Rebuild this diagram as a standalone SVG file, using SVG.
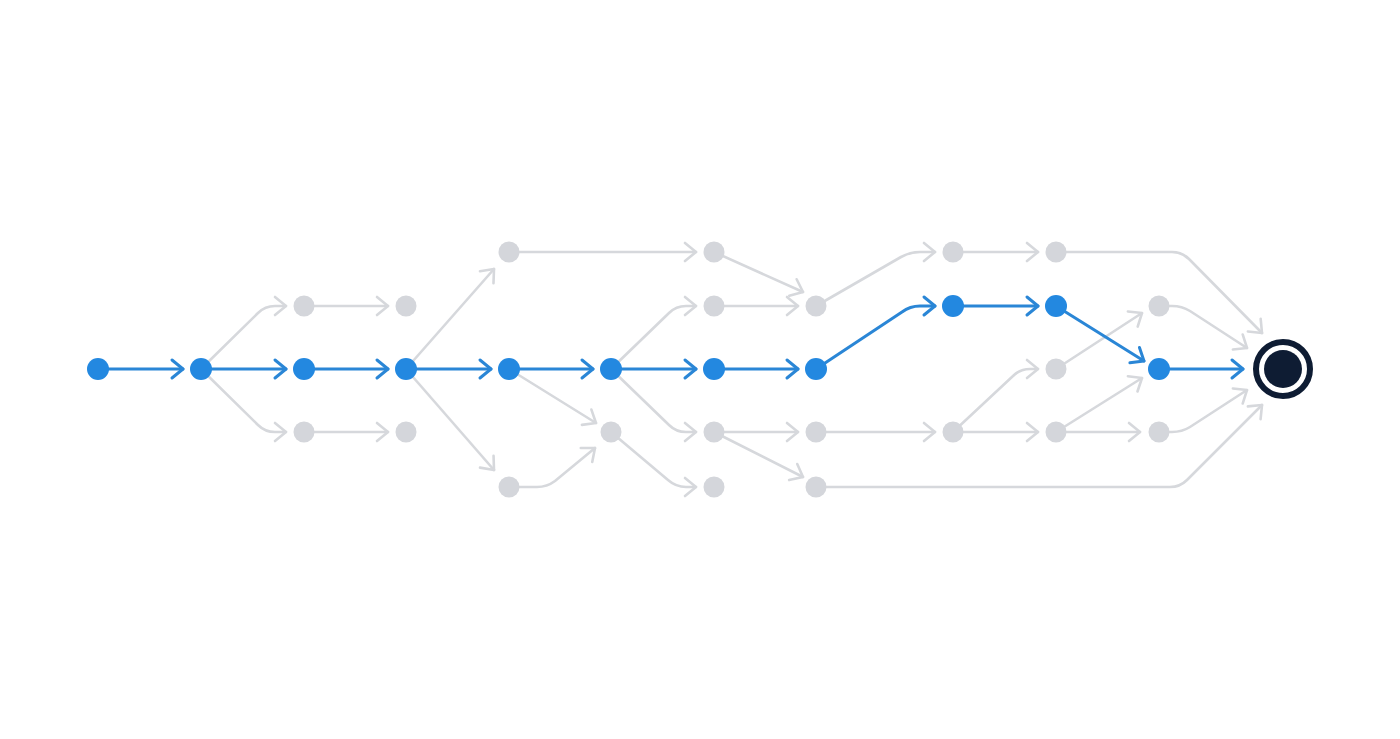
<svg xmlns="http://www.w3.org/2000/svg" width="1400" height="739" viewBox="0 0 1400 739">
<style>
.b{fill:none;stroke:#2a86d6;stroke-width:3;stroke-linecap:round;stroke-linejoin:round}
.g{fill:none;stroke:#d6d8dc;stroke-width:2.6;stroke-linecap:round;stroke-linejoin:round}
.nb{fill:#2388e0}
.ng{fill:#d4d6db}
</style>
<defs>
<marker id="ab" markerUnits="userSpaceOnUse" viewBox="-14 -12 16 24" markerWidth="16" markerHeight="24" refX="0" refY="0" orient="auto" overflow="visible">
<path d="M-11,-9 L0,0 L-11,9" fill="none" stroke="#2a86d6" stroke-width="3" stroke-linecap="round" stroke-linejoin="round"/>
</marker>
<marker id="ag" markerUnits="userSpaceOnUse" viewBox="-14 -12 16 24" markerWidth="16" markerHeight="24" refX="0" refY="0" orient="auto" overflow="visible">
<path d="M-11,-9 L0,0 L-11,9" fill="none" stroke="#d6d8dc" stroke-width="2.6" stroke-linecap="round" stroke-linejoin="round"/>
</marker>
</defs>
<rect width="1400" height="739" fill="#ffffff"/>
<g id="connectors">
<g marker-end="url(#ag)">
<path class="g" d="M201,369 L258,313 Q265,306 275,306 H286"/>
<path class="g" d="M201,369 L258,425 Q265,432 275,432 H286"/>
<path class="g" d="M304,306 H388"/>
<path class="g" d="M304,432 H388"/>
<path class="g" d="M406,369 L494,269"/>
<path class="g" d="M406,369 L494,470"/>
<path class="g" d="M509,252 H696"/>
<path class="g" d="M509,369 L596,423"/>
<path class="g" d="M509,487 H537 Q547,487 555,481 L595,448"/>
<path class="g" d="M611,369 L669,313 Q676,306 686,306 H696"/>
<path class="g" d="M611,369 L669,425 Q676,432 686,432 H696"/>
<path class="g" d="M611,432 L668,480 Q676,487 686,487 H696"/>
<path class="g" d="M714,252 L803,292"/>
<path class="g" d="M714,306 H798"/>
<path class="g" d="M714,432 H798"/>
<path class="g" d="M714,432 L803,477"/>
<path class="g" d="M816,306 L901,257 Q910,252 920,252 H935"/>
<path class="g" d="M816,432 H935"/>
<path class="g" d="M816,487 H1170 Q1180,487 1187,480 L1262,405"/>
<path class="g" d="M953,252 H1038"/>
<path class="g" d="M953,432 L1013,376 Q1020,369 1030,369 H1038"/>
<path class="g" d="M953,432 H1038"/>
<path class="g" d="M1056,252 H1172 Q1182,252 1189,259 L1262,333"/>
<path class="g" d="M1056,369 L1142,313"/>
<path class="g" d="M1056,432 L1142,378"/>
<path class="g" d="M1056,432 H1140"/>
<path class="g" d="M1159,306 H1172 Q1182,306 1190,311 L1247,348"/>
<path class="g" d="M1159,432 H1172 Q1182,432 1190,427 L1247,390"/>
</g>
<g marker-end="url(#ab)">
<path class="b" d="M98,369 H183"/>
<path class="b" d="M201,369 H286"/>
<path class="b" d="M304,369 H388"/>
<path class="b" d="M406,369 H491"/>
<path class="b" d="M509,369 H593"/>
<path class="b" d="M611,369 H696"/>
<path class="b" d="M714,369 H798"/>
<path class="b" d="M816,369 L902,312 Q910,306 920,306 H935"/>
<path class="b" d="M953,306 H1038"/>
<path class="b" d="M1056,306 L1144,361"/>
<path class="b" d="M1159,369 H1243"/>
</g>
</g>
<g id="n-b1"><circle class="nb" cx="98" cy="369" r="11"/></g>
<g id="n-b2"><circle class="nb" cx="201" cy="369" r="11"/></g>
<g id="n-b3"><circle class="nb" cx="304" cy="369" r="11"/></g>
<g id="n-b4"><circle class="nb" cx="406" cy="369" r="11"/></g>
<g id="n-b5"><circle class="nb" cx="509" cy="369" r="11"/></g>
<g id="n-b6"><circle class="nb" cx="611" cy="369" r="11"/></g>
<g id="n-b7"><circle class="nb" cx="714" cy="369" r="11"/></g>
<g id="n-b8"><circle class="nb" cx="816" cy="369" r="11"/></g>
<g id="n-b9"><circle class="nb" cx="953" cy="306" r="11"/></g>
<g id="n-b10"><circle class="nb" cx="1056" cy="306" r="11"/></g>
<g id="n-b11"><circle class="nb" cx="1159" cy="369" r="11"/></g>
<g id="n-g1"><circle class="ng" cx="304" cy="306" r="10.5"/></g>
<g id="n-g2"><circle class="ng" cx="406" cy="306" r="10.5"/></g>
<g id="n-g3"><circle class="ng" cx="304" cy="432" r="10.5"/></g>
<g id="n-g4"><circle class="ng" cx="406" cy="432" r="10.5"/></g>
<g id="n-g5"><circle class="ng" cx="509" cy="252" r="10.5"/></g>
<g id="n-g6"><circle class="ng" cx="509" cy="487" r="10.5"/></g>
<g id="n-g7"><circle class="ng" cx="611" cy="432" r="10.5"/></g>
<g id="n-g8"><circle class="ng" cx="714" cy="252" r="10.5"/></g>
<g id="n-g9"><circle class="ng" cx="714" cy="306" r="10.5"/></g>
<g id="n-g10"><circle class="ng" cx="714" cy="432" r="10.5"/></g>
<g id="n-g11"><circle class="ng" cx="714" cy="487" r="10.5"/></g>
<g id="n-g12"><circle class="ng" cx="816" cy="306" r="10.5"/></g>
<g id="n-g13"><circle class="ng" cx="816" cy="432" r="10.5"/></g>
<g id="n-g14"><circle class="ng" cx="816" cy="487" r="10.5"/></g>
<g id="n-g15"><circle class="ng" cx="953" cy="252" r="10.5"/></g>
<g id="n-g16"><circle class="ng" cx="953" cy="432" r="10.5"/></g>
<g id="n-g17"><circle class="ng" cx="1056" cy="252" r="10.5"/></g>
<g id="n-g18"><circle class="ng" cx="1056" cy="369" r="10.5"/></g>
<g id="n-g19"><circle class="ng" cx="1056" cy="432" r="10.5"/></g>
<g id="n-g20"><circle class="ng" cx="1159" cy="306" r="10.5"/></g>
<g id="n-g21"><circle class="ng" cx="1159" cy="432" r="10.5"/></g>
<g id="n-end">
<circle cx="1283" cy="369" r="27" fill="#ffffff" stroke="#0e1c33" stroke-width="6"/>
<circle cx="1283" cy="369" r="19" fill="#0e1c33"/>
</g>
</svg>
